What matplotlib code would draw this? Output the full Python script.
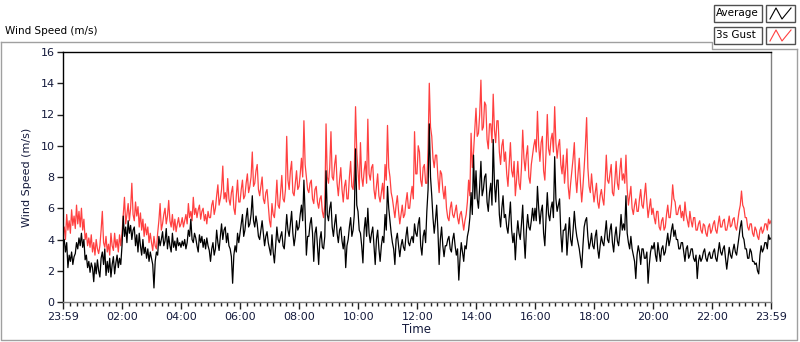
import numpy as np
import matplotlib
matplotlib.use("Agg")
import matplotlib.pyplot as plt
from matplotlib.lines import Line2D
from matplotlib.patches import Rectangle

# ---------------------------------------------------------------- data
# one sample every 2.5 minutes from 23:59 to 23:59 next day (one row = one hour)
gust = [
    4.3, 4.8, 4.0, 5.6, 4.6, 5.2, 4.4, 5.9, 4.9, 5.5, 4.7, 6.2, 5.0, 5.8, 4.8, 6.0, 4.6, 5.3, 4.0, 4.4, 3.6, 4.1, 3.5, 4.3,
    3.2, 3.8, 3.0, 4.0, 3.4, 3.1, 3.6, 4.6, 5.8, 3.8, 3.5, 4.2, 3.2, 3.7, 3.0, 4.4, 3.6, 3.3, 4.4, 3.5, 4.0, 3.2, 4.3, 3.6,
    4.4, 5.6, 6.7, 5.0, 5.6, 6.3, 5.2, 6.0, 7.6, 5.6, 5.2, 6.4, 5.5, 6.1, 4.8, 5.7, 4.6, 5.3, 4.2, 5.0, 4.3, 4.8, 3.8, 4.4,
    3.8, 3.3, 4.2, 3.6, 3.4, 4.4, 5.2, 6.3, 4.6, 5.0, 5.6, 6.0, 5.0, 5.5, 6.5, 5.2, 4.8, 5.6, 4.6, 5.3, 4.5, 5.0, 5.4, 4.8,
    5.0, 5.4, 4.8, 5.2, 5.6, 5.0, 6.3, 5.4, 5.8, 5.2, 6.7, 5.6, 6.0, 5.4, 5.9, 6.2, 5.3, 5.8, 6.0, 5.2, 5.6, 5.0, 5.8, 5.4,
    5.4, 6.2, 6.5, 5.6, 6.0, 6.8, 7.5, 6.2, 6.6, 7.2, 8.7, 6.6, 7.0, 6.4, 7.9, 6.6, 6.2, 7.0, 7.4, 6.0, 5.6, 6.8, 7.8, 6.4,
    6.4, 7.2, 7.8, 6.6, 6.8, 7.6, 8.2, 7.0, 7.4, 8.0, 9.6, 7.4, 7.6, 8.4, 8.8, 7.2, 6.8, 7.4, 8.0, 6.6, 6.3, 7.0, 7.2, 6.2,
    5.2, 4.8, 6.3, 5.6, 5.4, 6.4, 7.8, 6.2, 6.0, 7.0, 8.1, 6.6, 6.4, 7.2, 10.6, 7.8, 7.2, 8.4, 9.0, 7.0, 6.8, 7.6, 8.4, 7.2,
    7.4, 8.2, 9.2, 8.0, 11.6, 8.8, 8.0, 7.2, 7.0, 7.6, 7.8, 6.6, 6.3, 7.2, 7.4, 6.4, 6.0, 6.6, 6.8, 5.8, 5.4, 6.2, 11.4, 8.0,
    7.6, 8.6, 10.9, 8.0, 7.8, 8.8, 9.4, 7.6, 6.8, 7.8, 8.6, 7.2, 6.4, 7.4, 7.8, 6.6, 6.6, 8.0, 9.0, 7.4, 7.2, 8.4, 12.5, 9.6,
    8.4, 7.2, 10.2, 8.0, 7.4, 8.4, 9.0, 7.6, 11.7, 8.2, 7.8, 8.6, 8.8, 7.2, 6.6, 7.4, 8.2, 6.8, 6.4, 7.0, 7.6, 6.6, 8.8, 7.8,
    11.3, 8.6, 8.0, 7.0, 6.6, 6.0, 5.4, 6.2, 6.8, 5.8, 5.0, 5.6, 6.2, 5.4, 5.6, 6.4, 7.0, 6.0, 6.0, 6.8, 7.4, 6.6, 10.9, 8.2,
    8.2, 10.0, 9.6, 7.8, 7.4, 8.6, 8.8, 7.6, 7.6, 9.8, 14.0, 11.2, 10.6, 9.2, 8.6, 9.4, 9.4, 8.0, 7.0, 8.4, 8.2, 7.2, 6.6, 7.4,
    6.0, 5.4, 5.2, 6.0, 6.4, 5.6, 5.4, 5.8, 6.2, 5.4, 5.0, 5.6, 5.8, 5.2, 4.6, 5.2, 5.6, 6.4, 7.8, 6.8, 10.8, 8.6, 9.6, 11.0,
    12.4, 10.6, 10.8, 12.0, 14.2, 11.0, 11.2, 12.8, 12.6, 10.4, 9.8, 11.4, 11.4, 10.2, 13.3, 11.0, 10.2, 11.6, 11.6, 9.6, 8.8, 10.0, 10.4, 9.0,
    9.6, 8.2, 7.4, 8.8, 10.2, 8.4, 8.0, 9.0, 6.8, 7.8, 9.0, 7.6, 7.2, 8.6, 11.0, 9.2, 8.4, 9.4, 10.0, 8.0, 7.6, 8.8, 9.4, 10.0,
    10.4, 9.6, 12.2, 10.0, 9.0, 10.2, 10.6, 8.4, 7.8, 9.6, 12.0, 9.8, 9.4, 10.4, 10.8, 9.6, 12.5, 10.2, 9.2, 10.0, 10.4, 8.8, 8.2, 9.4,
    7.6, 8.6, 9.8, 7.4, 6.6, 7.6, 8.4, 9.2, 10.2, 8.0, 7.0, 8.2, 9.2, 7.6, 6.4, 7.4, 8.6, 10.0, 11.8, 8.6, 7.4, 7.0, 8.2, 7.2,
    6.4, 7.0, 7.6, 6.4, 6.0, 6.8, 7.2, 6.6, 6.2, 7.6, 9.4, 7.8, 7.6, 8.2, 8.8, 7.0, 6.8, 7.8, 9.0, 7.6, 7.2, 8.4, 9.2, 7.8,
    8.2, 7.6, 9.4, 7.2, 6.2, 6.8, 7.4, 6.0, 5.6, 6.2, 6.6, 5.8, 5.8, 6.6, 7.2, 6.2, 6.0, 6.8, 7.6, 6.4, 5.4, 6.0, 6.6, 5.6,
    6.0, 5.4, 5.0, 5.8, 5.8, 4.8, 4.6, 5.2, 5.4, 4.6, 4.8, 5.6, 6.2, 5.4, 5.4, 6.2, 7.5, 6.6, 6.4, 5.6, 5.6, 6.0, 6.2, 5.4,
    5.8, 5.2, 6.4, 5.6, 5.2, 4.8, 5.8, 5.2, 4.8, 5.4, 5.4, 4.6, 4.6, 5.0, 5.2, 4.6, 4.4, 5.0, 4.9, 4.4, 4.2, 4.8, 5.0, 4.4,
    4.6, 5.0, 5.2, 4.6, 4.4, 5.0, 5.5, 4.8, 4.8, 5.2, 5.3, 4.6, 4.6, 5.0, 5.5, 4.8, 4.9, 5.3, 5.4, 4.8, 4.6, 5.2, 5.8, 6.2,
    7.1, 6.2, 6.0, 5.4, 5.4, 4.8, 4.6, 5.0, 5.0, 4.4, 4.2, 4.8, 4.6, 4.2, 4.0, 4.6, 4.8, 4.4, 4.6, 5.0, 5.0, 4.6, 5.3, 5.0,
    5.2,
]
average = [
    3.6, 4.0, 3.2, 3.8, 2.2, 3.0, 2.6, 3.2, 2.4, 2.9, 3.1, 3.8, 3.4, 4.1, 3.6, 4.4, 3.5, 4.0, 2.7, 3.0, 2.2, 2.6, 1.9, 2.5,
    2.2, 1.3, 2.5, 1.8, 2.7, 2.0, 1.6, 2.8, 3.2, 2.4, 3.4, 1.7, 2.6, 1.9, 2.8, 1.6, 2.4, 2.9, 1.8, 2.5, 3.0, 2.2, 2.8, 2.4,
    3.6, 5.5, 4.2, 4.8, 3.8, 5.2, 4.4, 4.9, 4.0, 4.6, 4.8, 3.6, 4.3, 3.2, 4.4, 3.6, 3.0, 4.0, 3.1, 3.5, 2.8, 3.4, 2.6, 3.2,
    2.8, 2.4, 0.9, 2.6, 3.2, 3.0, 4.2, 3.6, 4.0, 4.5, 3.6, 3.9, 4.7, 3.4, 4.2, 3.6, 3.2, 4.4, 3.5, 3.9, 3.3, 4.1, 3.6, 3.8,
    3.5, 3.9, 3.6, 4.0, 3.4, 3.8, 4.6, 4.2, 5.3, 4.0, 3.8, 4.4, 4.1, 3.6, 3.2, 4.3, 3.8, 4.2, 3.5, 4.0, 3.4, 4.1, 3.6, 3.3,
    2.6, 3.4, 3.8, 3.0, 3.4, 4.6, 3.8, 3.3, 4.2, 5.0, 4.0, 4.6, 4.8, 3.8, 4.4, 3.6, 3.4, 2.9, 1.2, 3.0, 3.6, 3.2, 4.4, 3.8,
    4.4, 5.0, 5.6, 4.2, 4.6, 5.4, 6.0, 4.8, 5.0, 5.6, 6.8, 5.2, 4.8, 5.5, 5.0, 4.2, 4.0, 4.6, 5.2, 4.4, 3.6, 4.2, 4.5, 3.8,
    3.4, 3.0, 4.3, 3.2, 2.5, 3.6, 4.8, 4.0, 3.8, 4.2, 4.5, 3.6, 3.4, 4.4, 5.6, 4.6, 4.2, 5.0, 5.8, 4.4, 3.6, 4.2, 5.2, 4.6,
    4.8, 5.6, 6.2, 5.2, 7.8, 5.6, 3.0, 4.2, 4.2, 5.0, 5.4, 4.4, 2.6, 4.4, 4.8, 3.6, 2.4, 4.0, 4.5, 3.5, 3.4, 4.2, 8.4, 5.6,
    5.2, 6.0, 6.4, 4.8, 4.2, 5.0, 5.6, 4.4, 3.8, 4.6, 4.8, 3.9, 3.4, 4.2, 2.2, 3.6, 4.0, 4.8, 5.4, 4.2, 4.6, 5.6, 9.8, 6.2,
    5.8, 4.6, 4.4, 3.6, 2.5, 4.6, 5.4, 4.2, 6.0, 4.4, 3.8, 4.4, 4.8, 3.6, 2.4, 4.0, 4.6, 3.4, 2.6, 3.6, 4.2, 3.8, 5.6, 4.6,
    7.4, 6.0, 5.2, 4.4, 3.8, 3.4, 2.4, 4.0, 4.4, 3.6, 2.9, 3.6, 4.0, 3.5, 3.3, 4.2, 4.8, 3.8, 3.6, 4.0, 4.2, 3.8, 5.0, 4.4,
    4.2, 5.0, 5.4, 3.6, 3.0, 4.2, 4.6, 3.8, 5.8, 7.2, 11.4, 8.0, 6.8, 5.4, 4.4, 5.2, 6.2, 4.6, 2.4, 4.0, 4.8, 3.6, 2.9, 3.6,
    3.6, 4.0, 4.2, 3.4, 3.2, 4.0, 4.4, 3.6, 3.0, 3.4, 1.4, 2.8, 3.8, 3.2, 2.6, 3.6, 3.4, 4.2, 4.6, 5.4, 7.0, 5.6, 9.4, 6.6,
    8.4, 6.6, 6.0, 7.4, 9.0, 6.8, 7.2, 8.0, 8.2, 6.4, 5.8, 7.0, 7.6, 6.2, 10.4, 7.6, 6.4, 7.8, 7.8, 5.6, 4.8, 6.0, 6.8, 5.4,
    5.6, 4.8, 4.4, 5.4, 6.4, 4.6, 3.8, 4.4, 2.7, 4.2, 5.2, 4.4, 4.0, 5.0, 6.2, 4.2, 2.8, 4.6, 5.6, 4.8, 4.6, 5.2, 6.0, 5.2,
    6.0, 5.2, 7.4, 6.0, 5.0, 5.8, 6.2, 4.4, 3.6, 5.4, 7.0, 5.6, 5.2, 6.0, 6.4, 5.4, 9.3, 6.6, 5.8, 6.2, 6.6, 4.4, 3.2, 4.6,
    4.6, 5.0, 3.0, 4.2, 5.4, 4.0, 3.6, 4.6, 5.8, 4.8, 4.2, 3.8, 3.4, 2.8, 2.2, 3.6, 4.8, 5.2, 5.4, 4.2, 3.4, 3.8, 4.4, 3.6,
    3.4, 4.2, 4.6, 3.4, 2.8, 3.6, 4.2, 3.8, 3.6, 4.4, 5.2, 4.0, 3.8, 4.6, 5.0, 3.8, 3.2, 4.2, 4.8, 3.9, 3.6, 4.4, 5.6, 4.6,
    5.0, 4.6, 6.8, 4.4, 3.8, 3.4, 4.2, 3.4, 3.0, 2.6, 1.5, 3.0, 3.6, 3.2, 2.4, 3.4, 3.4, 2.8, 2.8, 3.2, 1.2, 2.4, 3.2, 3.6,
    3.4, 3.8, 3.0, 2.6, 3.8, 3.2, 2.6, 3.4, 3.6, 3.0, 3.2, 3.8, 4.4, 3.6, 4.0, 4.6, 5.0, 4.2, 4.6, 4.0, 4.0, 3.4, 3.4, 3.8,
    3.8, 3.2, 2.6, 3.4, 3.6, 2.8, 3.0, 3.4, 3.4, 2.8, 2.6, 3.0, 1.5, 2.6, 3.0, 2.6, 2.8, 3.2, 3.4, 2.8, 2.6, 3.0, 3.2, 2.8,
    2.8, 3.2, 3.4, 2.8, 2.6, 3.2, 3.8, 3.2, 3.0, 3.4, 3.6, 2.8, 2.1, 2.8, 3.5, 3.0, 2.8, 3.3, 3.7, 3.2, 3.0, 3.6, 4.2, 4.8,
    5.2, 4.2, 4.0, 3.4, 3.4, 2.8, 2.8, 3.4, 3.2, 2.6, 2.6, 2.4, 2.5, 2.0, 1.8, 3.0, 3.6, 3.2, 3.4, 3.8, 3.8, 3.4, 4.3, 4.0,
    4.1,
]
gust_minutes = np.linspace(0, 1440, len(gust))      # minutes after 23:59
average_minutes = np.linspace(0, 1440, len(average))

tick_minutes = [0, 121, 241, 361, 481, 601, 721, 841, 961, 1081, 1201, 1321, 1440]
tick_labels = ["23:59", "02:00", "04:00", "06:00", "08:00", "10:00", "12:00",
               "14:00", "16:00", "18:00", "20:00", "22:00", "23:59"]
y_ticks = [0, 2, 4, 6, 8, 10, 12, 14, 16]

GUST_COLOR = "#ff4040"
LABEL_COLOR = "#141a3c"
FRAME_GRAY = "#a0a0a0"

# ---------------------------------------------------------------- figure
W, H = 800, 342
fig = plt.figure(figsize=(W / 100, H / 100), dpi=100)
fig.patch.set_facecolor("white")

def fx(x):
    return x / W

def fy(y):
    return 1 - y / H

ax = fig.add_axes([fx(63), fy(302), fx(771) - fx(63), fy(52) - fy(302)])
ax.plot(gust_minutes, gust, color=GUST_COLOR, lw=0.9)
ax.plot(average_minutes, average, color="black", lw=0.9)

ax.set_xlim(0, 1440)
ax.set_ylim(0, 16)
ax.set_yticks(y_ticks)
ax.set_xticks(tick_minutes)
ax.set_xticklabels(tick_labels)
minor = [121 + k * 120 / 9 for k in range(-9, 100)]
ax.set_xticks([m for m in minor if 0 < m < 1440 and
               min(abs(m - t) for t in tick_minutes) > 2], minor=True)

ax.tick_params(axis="both", which="major", labelsize=8, colors="#202020",
               labelcolor=LABEL_COLOR, length=4, width=1, pad=2)
ax.tick_params(axis="x", which="major", length=5)
ax.tick_params(axis="x", which="minor", length=3, width=1, color="#202020")

for side in ("top", "left"):
    ax.spines[side].set_color("black")
    ax.spines[side].set_linewidth(1.0)
for side in ("right", "bottom"):
    ax.spines[side].set_color("#808080")
    ax.spines[side].set_linewidth(1.0)

ax.set_ylabel("Wind Speed (m/s)", fontsize=8, color=LABEL_COLOR, labelpad=6)
ax.set_xlabel("Time", fontsize=8.5, color=LABEL_COLOR, labelpad=1)

# ---------------------------------------------------------------- panel chrome
fig.text(fx(5), fy(31), "Wind Speed (m/s)", fontsize=7.5, color="black",
         va="center", ha="left")

def fline(xs, ys, color=FRAME_GRAY, lw=1.0):
    fig.add_artist(Line2D([fx(x) for x in xs], [fy(y) for y in ys],
                          transform=fig.transFigure, color=color, lw=lw))

fline([1, 712, 712, 797], [42, 42, 49, 49])
fline([1, 1, 797, 797], [42, 340, 340, 49])

def fbox(x0, y0, x1, y1):
    fig.add_artist(Rectangle((fx(x0), fy(y1)), fx(x1) - fx(x0), fy(y0) - fy(y1),
                             transform=fig.transFigure, fill=True,
                             facecolor="white", edgecolor="#505050", lw=1.0))

legend_rows = [("Average", "black", 5, 22), ("3s Gust", GUST_COLOR, 27, 44)]
for name, color, y0, y1 in legend_rows:
    fbox(714, y0, 762, y1)
    fig.text(fx(716), fy((y0 + y1) / 2), name, fontsize=7.5, va="center", ha="left")
    fbox(766, y0, 795, y1)
    zx = [770, 776, 782, 791]
    zy = [y1 - 3, y0 + 3, y1 - 3, y0 + 3]
    fline(zx, zy, color=color, lw=0.8)

fig.savefig("out.png", dpi=100)
